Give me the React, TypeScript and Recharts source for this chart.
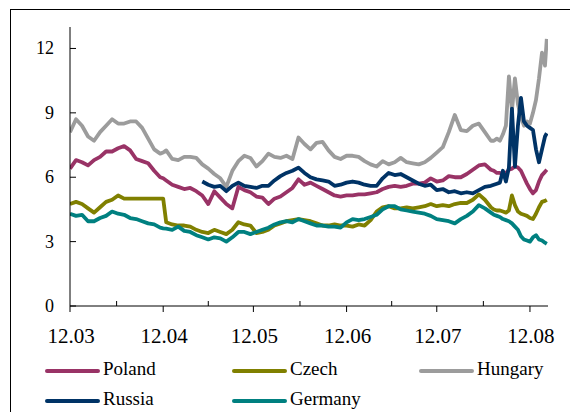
import { LineChart, Line, XAxis, YAxis } from "recharts";

// day index counted from 12 March
const days = [
  0, 2, 4, 6, 8, 10, 12, 14, 16, 18,
  20, 22, 24, 26, 28, 30, 31, 32, 34, 36, 38,
  40, 42, 44, 46, 48, 50, 52, 54, 56, 58,
  60, 62, 64, 66, 68, 70, 72, 74, 76, 78,
  80, 82, 84, 86, 88, 90, 92, 94, 96, 98,
  100, 102, 104, 106, 108, 110, 112, 114, 116, 118,
  120, 122, 124, 126, 128, 130, 132, 134, 136, 138,
  140, 141, 142, 143, 144, 145, 146, 147, 148, 149,
  150, 151, 152, 153, 154, 155, 156, 157, 158, 158.6,
];

const poland = [
  6.4, 6.8, 6.7, 6.55, 6.8, 6.95, 7.2, 7.2, 7.35, 7.45,
  7.25, 6.85, 6.75, 6.65, 6.3, 6.0, 5.95, 5.85, 5.65, 5.55, 5.45,
  5.5, 5.35, 5.15, 4.75, 5.35, 5.05, 4.75, 4.55, 5.55, 5.4,
  5.3, 5.1, 5.05, 4.75, 5.0, 5.1, 5.3, 5.5, 5.9, 5.65,
  5.75, 5.6, 5.45, 5.3, 5.15, 5.1, 5.15, 5.15, 5.2, 5.2,
  5.25, 5.3, 5.45, 5.55, 5.6, 5.55, 5.6, 5.7, 5.7, 5.75,
  5.95, 5.8, 5.85, 6.05, 6.0, 6.0, 6.15, 6.35, 6.55, 6.6,
  6.35, 6.3, 6.2, 6.2, 6.15, 6.2, 6.35, 6.4, 6.5, 6.45,
  6.3, 6.0, 5.7, 5.45, 5.25, 5.4, 5.8, 6.1, 6.25, 6.35,
];

const czech = [
  4.75, 4.85, 4.75, 4.55, 4.35, 4.6, 4.85, 4.95, 5.15, 5.0,
  5.0, 5.0, 5.0, 5.0, 5.0, 5.0, 5.0, 3.9, 3.8, 3.75, 3.75,
  3.7, 3.55, 3.45, 3.4, 3.55, 3.45, 3.35, 3.55, 3.9, 3.8,
  3.75, 3.4, 3.45, 3.55, 3.75, 3.85, 3.95, 4.0, 4.05, 4.0,
  3.95, 3.85, 3.75, 3.75, 3.8, 3.75, 3.75, 3.7, 3.8, 3.75,
  4.0, 4.4, 4.6, 4.65, 4.55, 4.55, 4.6, 4.55, 4.6, 4.65,
  4.75, 4.65, 4.7, 4.65, 4.75, 4.8, 4.8, 4.95, 5.2, 4.95,
  4.6, 4.5, 4.45, 4.45, 4.4, 4.35, 4.45, 5.15, 4.7, 4.4,
  4.3, 4.25, 4.2, 4.1, 4.05, 4.3, 4.6, 4.85, 4.9, 4.95,
];

const hungary = [
  8.1, 8.7, 8.4, 7.9, 7.7, 8.1, 8.4, 8.7, 8.5, 8.5,
  8.6, 8.6, 8.3, 7.8, 7.3, 7.1, 7.15, 7.25, 6.85, 6.8, 6.95,
  6.95, 6.9, 6.6, 6.4, 6.15, 5.95, 5.55, 6.3, 6.75, 7.0,
  6.9, 6.5, 6.75, 7.1, 6.95, 6.9, 7.0, 6.85, 7.85, 7.55,
  7.3, 7.6, 7.65, 7.25, 6.95, 6.85, 7.0, 7.0, 6.95, 6.75,
  6.6, 6.5, 6.75, 6.6, 6.7, 6.9, 6.7, 6.65, 6.6, 6.7,
  6.9, 7.15, 7.4, 8.1, 8.9, 8.2, 8.15, 8.4, 8.5, 8.1,
  7.7, 7.7, 7.8, 7.7, 8.0, 8.4, 10.7, 9.1, 10.6, 9.4,
  8.8, 8.4, 8.6, 8.5, 9.0, 9.6, 10.6, 11.8, 11.2, 12.45,
];

const russia = [
  null, null, null, null, null, null, null, null, null, null,
  null, null, null, null, null, null, null, null, null, null, null,
  null, null, 5.8, 5.65, 5.55, 5.6, 5.35, 5.6, 5.75, 5.6,
  5.55, 5.5, 5.6, 5.6, 5.85, 6.05, 6.2, 6.3, 6.45, 6.2,
  6.0, 5.9, 5.85, 5.8, 5.6, 5.65, 5.75, 5.8, 5.75, 5.65,
  5.6, 5.6, 5.95, 6.2, 6.1, 6.15, 6.0, 5.85, 5.7, 5.6,
  5.65, 5.4, 5.45, 5.3, 5.35, 5.25, 5.3, 5.25, 5.4, 5.55,
  5.6, 5.65, 5.7, 5.75, 6.3, 5.8, 6.45, 9.2, 6.5, 8.4,
  9.7, 8.6, 8.4, 8.3, 8.2, 7.3, 6.7, 7.3, 7.9, 8.05,
];

const germany = [
  4.3, 4.2, 4.25, 3.95, 3.95, 4.1, 4.2, 4.4, 4.3, 4.25,
  4.1, 4.05, 3.95, 3.85, 3.8, 3.65, 3.62, 3.6, 3.55, 3.7, 3.5,
  3.45, 3.3, 3.2, 3.1, 3.2, 3.15, 3.0, 3.2, 3.45, 3.45,
  3.35, 3.45, 3.55, 3.65, 3.8, 3.9, 3.95, 3.9, 4.05, 3.95,
  3.85, 3.75, 3.75, 3.7, 3.7, 3.65, 3.9, 4.05, 4.0, 4.05,
  4.15, 4.25, 4.5, 4.65, 4.65, 4.5, 4.45, 4.4, 4.35, 4.3,
  4.2, 4.05, 4.0, 3.95, 3.85, 4.05, 4.2, 4.4, 4.7, 4.55,
  4.35, 4.25, 4.2, 4.15, 4.05, 4.0, 3.95, 3.85, 3.7, 3.55,
  3.25, 3.1, 3.05, 3.0, 3.2, 3.3, 3.1, 3.05, 2.95, 2.9,
];

const monthTicks = [0, 31, 61, 92, 122, 153];
const monthLabels = ["12.03", "12.04", "12.05", "12.06", "12.07", "12.08"];
const midTicks = [15.5, 46, 76.5, 107, 137.5];
const yTicks = [0, 3, 6, 9, 12];

const series = [
  { key: "poland", name: "Poland", color: "#993366" },
  { key: "czech", name: "Czech", color: "#808000" },
  { key: "hungary", name: "Hungary", color: "#9c9c9c" },
  { key: "russia", name: "Russia", color: "#003366" },
  { key: "germany", name: "Germany", color: "#008080" },
];

const data = days.map((d, i) => ({
  d,
  poland: poland[i],
  czech: czech[i],
  hungary: hungary[i],
  russia: russia[i],
  germany: germany[i],
}));

const FONT = '"Liberation Serif", "Times New Roman", serif';

function XTick(props: any) {
  const { x, y, payload } = props;
  const i = monthTicks.indexOf(payload.value);
  if (i < 0) return <line x1={x} x2={x} y1={y} y2={y - 5} stroke="#000" />;
  return (
    <g>
      <line x1={x} x2={x} y1={y} y2={y + 6} stroke="#000" />
      <text x={x + 1} y={y + 37} textAnchor="middle" fontFamily={FONT} fontSize={21} fill="#000">
        {monthLabels[i]}
      </text>
    </g>
  );
}

function YTick(props: any) {
  const { x, y, payload } = props;
  return (
    <g>
      <line x1={x} x2={x + 6} y1={y} y2={y} stroke="#000" />
      <text x={x - 16} y={y + 6} textAnchor="end" fontFamily={FONT} fontSize={18} fill="#000">
        {payload.value}
      </text>
    </g>
  );
}

export default function App() {
  return (
    <div style={{ position: "absolute", left: 0, top: 0, width: 570, height: 412, background: "#fff", overflow: "hidden" }}>
      <LineChart width={570} height={412} data={data} margin={{ top: 27, right: 22, bottom: 76, left: 0 }}>
        <XAxis
          dataKey="d"
          type="number"
          domain={[0, 159]}
          ticks={[...monthTicks, ...midTicks].sort((a, b) => a - b)}
          interval={0}
          tickLine={false}
          tickSize={0}
          tickMargin={0}
          tick={<XTick />}
          axisLine={{ stroke: "#000" }}
          height={30}
          allowDataOverflow
        />
        <YAxis
          type="number"
          domain={[0, 13]}
          ticks={yTicks}
          interval={0}
          tickLine={false}
          tickSize={0}
          tickMargin={0}
          tick={<YTick />}
          axisLine={{ stroke: "#000" }}
          width={70}
        />
        {series.map((s) => (
          <Line
            key={s.key}
            dataKey={s.key}
            stroke={s.color}
            strokeWidth={3.8}
            strokeLinejoin="round"
            dot={false}
            activeDot={false}
            isAnimationActive={false}
          />
        ))}
      </LineChart>
      <svg width={570} height={412} style={{ position: "absolute", left: 0, top: 0, pointerEvents: "none" }}>
        <line x1={10.5} x2={10.5} y1={9} y2={412} stroke="#000" />
        <line x1={10} x2={570} y1={9.5} y2={9.5} stroke="#000" />
        {series.map((s, i) => {
          const col = i % 3;
          const row = Math.floor(i / 3);
          const lx = 47 + col * 187;
          const ly = 371 + row * 30;
          return (
            <g key={s.key}>
              <line x1={lx} x2={lx + 51} y1={ly} y2={ly} stroke={s.color} strokeWidth={4} strokeLinecap="round" />
              <text x={lx + 56} y={ly + 4} fontFamily={FONT} fontSize={19} fill="#000">
                {s.name}
              </text>
            </g>
          );
        })}
      </svg>
    </div>
  );
}
